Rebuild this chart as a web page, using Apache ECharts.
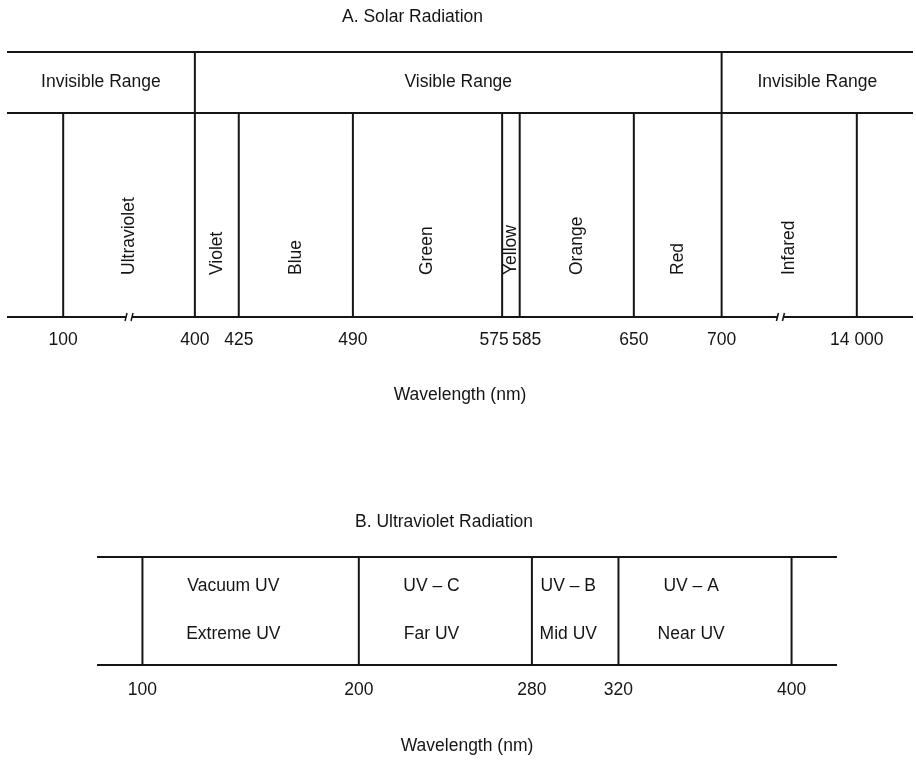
<!DOCTYPE html>
<html><head><meta charset="utf-8">
<script src="https://cdn.jsdelivr.net/npm/echarts@6/dist/echarts.min.js"></script>
<style>html,body{margin:0;padding:0;background:#fff}#c{width:916px;height:762px}</style>
</head><body><div id="c"></div>
<script>
// ---- data ----
const solarBounds = [100, 400, 425, 490, 575, 585, 650, 700, 14000];
const solarBands = ['Ultraviolet', 'Violet', 'Blue', 'Green', 'Yellow', 'Orange', 'Red', 'Infared'];
const rangeBounds = [400, 700];
const rangeNames = ['Invisible Range', 'Visible Range', 'Invisible Range'];
const solarBreaks = [[130, 370], [725, 13965]];
const solarTicks = [100, 400, 425, 490, 575, 585, 650, 700, 14000];
const uvBounds = [100, 200, 280, 320, 400];
const uvNames = ['Vacuum UV', 'UV \u2013 C', 'UV \u2013 B', 'UV \u2013 A'];
const uvAltNames = ['Extreme UV', 'Far UV', 'Mid UV', 'Near UV'];
const uvTicks = [100, 200, 280, 320, 400];

// ---- layout / style ----
const FONT = "'Liberation Sans',Arial,Helvetica,sans-serif";
const FS = 17.5;
const INK = '#151515';
const LW = 2;
const A_MIN = 68, A_MAX = 14032;
const breakGaps = [15, 17];
const UV_LABEL_FRAC = 0.42;

function hline(x0, x1, y) {
  return {type: 'line', shape: {x1: x0, y1: y, x2: x1, y2: y}, style: {stroke: INK, lineWidth: LW}};
}
function vline(x, y0, y1) {
  return {type: 'line', shape: {x1: x, y1: y0, x2: x, y2: y1}, style: {stroke: INK, lineWidth: LW}};
}
function txt(s, x, y, extra) {
  return Object.assign({type: 'text', x: x, y: y, style: {text: s, fontSize: FS, fontFamily: FONT, fill: INK, align: 'center', verticalAlign: 'middle'}}, extra || {});
}

const headerData = rangeNames.map((n, i) => [i === 0 ? A_MIN : rangeBounds[i - 1], i === rangeNames.length - 1 ? A_MAX : rangeBounds[i]]);
const solarData = solarBands.map((n, i) => [solarBounds[i], solarBounds[i + 1]]);
const uvData = uvNames.map((n, i) => [uvBounds[i], uvBounds[i + 1]]);

function renderHeader(params, api) {
  const cs = params.coordSys, i = params.dataIndex;
  const x0 = i === 0 ? cs.x : api.coord([api.value(0), 0])[0];
  const x1 = i === rangeNames.length - 1 ? cs.x + cs.width : api.coord([api.value(1), 0])[0];
  const ch = [];
  if (i === 0) ch.push(hline(cs.x, cs.x + cs.width, cs.y));
  if (i > 0) ch.push(vline(x0, cs.y, cs.y + cs.height));
  ch.push(txt(rangeNames[i], (x0 + x1) / 2, cs.y + cs.height / 2));
  return {type: 'group', children: ch};
}

function renderSolar(params, api) {
  const cs = params.coordSys, i = params.dataIndex;
  const x0 = api.coord([api.value(0), 0])[0];
  const x1 = api.coord([api.value(1), 0])[0];
  const top = cs.y, bot = cs.y + cs.height;
  const ch = [];
  if (i === 0) {
    ch.push(hline(cs.x, cs.x + cs.width, top));
    ch.push(hline(cs.x, cs.x + cs.width, bot));
    solarBreaks.forEach(b => {
      const xm = (api.coord([b[0], 0])[0] + api.coord([b[1], 0])[0]) / 2;
      ch.push({type: 'rect', shape: {x: xm - 3, y: bot - 3, width: 6, height: 6}, style: {fill: '#fff'}});
      ch.push({type: 'line', shape: {x1: xm - 4, y1: bot + 4, x2: xm - 2, y2: bot - 4}, style: {stroke: INK, lineWidth: 1.5}});
      ch.push({type: 'line', shape: {x1: xm + 2, y1: bot + 4, x2: xm + 4, y2: bot - 4}, style: {stroke: INK, lineWidth: 1.5}});
    });
  }
  ch.push(vline(x0, top, bot));
  if (i === solarBands.length - 1) ch.push(vline(x1, top, bot));
  ch.push(txt(solarBands[i], (x0 + x1) / 2, bot - 42, {rotation: Math.PI / 2, style: {text: solarBands[i], fontSize: FS, fontFamily: FONT, fill: INK, align: 'left', verticalAlign: 'middle'}}));
  return {type: 'group', children: ch};
}

function renderUV(params, api) {
  const cs = params.coordSys, i = params.dataIndex;
  const x0 = api.coord([api.value(0), 0])[0];
  const x1 = api.coord([api.value(1), 0])[0];
  const top = cs.y, bot = cs.y + cs.height;
  const ch = [];
  if (i === 0) {
    ch.push(hline(cs.x, cs.x + cs.width, top));
    ch.push(hline(cs.x, cs.x + cs.width, bot));
  }
  ch.push(vline(x0, top, bot));
  if (i === uvNames.length - 1) ch.push(vline(x1, top, bot));
  const xm = x0 + (x1 - x0) * UV_LABEL_FRAC;
  ch.push(txt(uvNames[i], xm, top + 29));
  ch.push(txt(uvAltNames[i], xm, bot - 31));
  return {type: 'group', children: ch};
}

const labelStyle = {fontSize: FS, fontFamily: FONT, color: INK};
// close neighbours (575 / 585) are nudged apart so they do not collide
const fmtA = v => {
  const s = v >= 10000 ? String(v).replace(/(\d+)(\d{3})$/, '$1 $2') : String(v);
  if (v === 575) return '{l|' + s + '}';
  if (v === 585) return '{r|' + s + '}';
  return s;
};
const fmtB = v => String(v);
const breaksA = solarBreaks.map((b, k) => ({start: b[0], end: b[1], gap: breakGaps[k]}));

function baseX(extra) {
  return Object.assign({
    type: 'value',
    axisLine: {show: false}, axisTick: {show: false}, splitLine: {show: false},
    axisLabel: {show: false}
  }, extra);
}

const option = {
  backgroundColor: '#fff',
  animation: false,
  title: [
    {text: 'A. Solar Radiation', left: 342, top: 8, padding: 0, textStyle: {fontSize: FS, fontWeight: 'normal', fontFamily: FONT, color: INK}},
    {text: 'B. Ultraviolet Radiation', left: 355, top: 513, padding: 0, textStyle: {fontSize: FS, fontWeight: 'normal', fontFamily: FONT, color: INK}}
  ],
  grid: [
    {left: 7, right: 3, top: 52, height: 61},
    {left: 7, right: 3, top: 113, height: 204},
    {left: 97, right: 79, top: 557, height: 108}
  ],
  xAxis: [
    baseX({gridIndex: 0, min: A_MIN, max: A_MAX, breaks: breaksA, breakArea: {show: false}}),
    baseX({gridIndex: 1, min: A_MIN, max: A_MAX, breaks: breaksA, breakArea: {show: false},
      axisLabel: Object.assign({show: true, customValues: solarTicks, formatter: fmtA, margin: 14,
        rich: {l: Object.assign({padding: [0, 16, 0, 0]}, labelStyle), r: Object.assign({padding: [0, 0, 0, 14]}, labelStyle)}}, labelStyle),
      name: 'Wavelength (nm)', nameLocation: 'middle', nameGap: 69, nameTextStyle: labelStyle}),
    baseX({gridIndex: 2, min: 79, max: 421,
      axisLabel: Object.assign({show: true, customValues: uvTicks, formatter: fmtB, margin: 16}, labelStyle),
      name: 'Wavelength (nm)', nameLocation: 'middle', nameGap: 72, nameTextStyle: labelStyle})
  ],
  yAxis: [0, 1, 2].map(g => ({gridIndex: g, type: 'value', min: 0, max: 1, show: false})),
  series: [
    {type: 'custom', xAxisIndex: 0, yAxisIndex: 0, data: headerData, encode: {x: [0, 1]}, renderItem: renderHeader, silent: true},
    {type: 'custom', xAxisIndex: 1, yAxisIndex: 1, data: solarData, encode: {x: [0, 1]}, renderItem: renderSolar, silent: true},
    {type: 'custom', xAxisIndex: 2, yAxisIndex: 2, data: uvData, encode: {x: [0, 1]}, renderItem: renderUV, silent: true}
  ]
};
const chart = echarts.init(document.getElementById('c'), null, {renderer: 'canvas'});
chart.setOption(option);
</script>
</body></html>
